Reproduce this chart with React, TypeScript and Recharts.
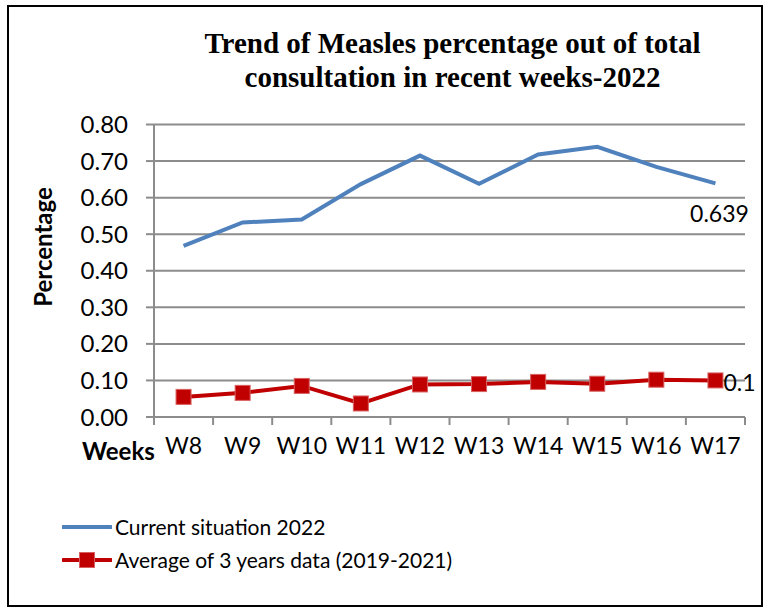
import { LineChart, Line, XAxis, YAxis, CartesianGrid, LabelList } from 'recharts';

// weekly data
const weeks = ['W8', 'W9', 'W10', 'W11', 'W12', 'W13', 'W14', 'W15', 'W16', 'W17'];
const current2022 = [0.468, 0.532, 0.54, 0.637, 0.715, 0.638, 0.718, 0.739, 0.684, 0.639];
const avg3Years = [0.055, 0.066, 0.085, 0.037, 0.089, 0.09, 0.096, 0.091, 0.102, 0.1];
const yTicks = [0, 0.1, 0.2, 0.3, 0.4, 0.5, 0.6, 0.7, 0.8];

const data = weeks.map((w, i) => ({ week: w, current: current2022[i], avg: avg3Years[i] }));

const FONT = 'Lato, "Open Sans", sans-serif';
const GRID = '#8c8c8c';
const BLUE = '#4f81bd';
const RED = '#c00000';
const PLOT_LEFT = 154;
const PLOT_RIGHT = 745;
const BAND = (PLOT_RIGHT - PLOT_LEFT) / weeks.length;

const WeekTick = (props: any) => {
  const { x, y, payload, index } = props;
  return (
    <g>
      <line x1={x - BAND / 2} x2={x - BAND / 2} y1={y} y2={y + 8} stroke={GRID} strokeWidth={2} />
      {index === weeks.length - 1 && (
        <line x1={x + BAND / 2} x2={x + BAND / 2} y1={y} y2={y + 8} stroke={GRID} strokeWidth={2} />
      )}
      <text x={x} y={y + 37} textAnchor="middle" fontSize={23} fontFamily={FONT} fill="#000">
        {payload.value}
      </text>
    </g>
  );
};

const SquareDot = (props: any) => {
  const { cx, cy } = props;
  if (cx == null || cy == null) return null;
  return <rect x={cx - 7.5} y={cy - 7.5} width={15} height={15} fill={RED} stroke="#d86060" strokeWidth={1} />;
};

const lastLabel = (dx: number, dy: number, anchor: string) => (props: any) => {
  const { x, y, value, index } = props;
  if (index !== weeks.length - 1) return null;
  return (
    <text x={x + dx} y={y + dy} textAnchor={anchor} dominantBaseline="central" fontSize={23} fontFamily={FONT} fill="#000">
      {value}
    </text>
  );
};

const LegendBox = () => (
  <div
    style={{
      position: 'absolute', left: 0, top: 510, fontFamily: FONT, fontSize: 21, color: '#000', lineHeight: '33px',
    }}
  >
    <div style={{ display: 'flex', alignItems: 'center' }}>
      <svg width={50} height={12} style={{ marginLeft: 62 }}>
        <line x1={1} x2={49} y1={6} y2={6} stroke={BLUE} strokeWidth={4} strokeLinecap="round" />
      </svg>
      <span style={{ marginLeft: 3 }}>Current situation 2022</span>
    </div>
    <div style={{ display: 'flex', alignItems: 'center' }}>
      <svg width={50} height={18} style={{ marginLeft: 62 }}>
        <line x1={1} x2={49} y1={9} y2={9} stroke={RED} strokeWidth={4} strokeLinecap="round" />
        <rect x={17.5} y={1.5} width={15} height={15} fill={RED} stroke="#d86060" strokeWidth={1} />
      </svg>
      <span style={{ marginLeft: 3 }}>Average of 3 years data (2019-2021)</span>
    </div>
  </div>
);

export default function App() {
  return (
    <div style={{ position: 'absolute', left: 0, top: 0, width: 770, height: 609, background: '#fff' }}>
      <div style={{ position: 'absolute', left: 7, top: 5, width: 752, height: 598, border: '2px solid #000' }} />
      <div
        style={{
          position: 'absolute', left: 100, width: 705, top: 26, textAlign: 'center',
          fontFamily: '"Liberation Serif", "Times New Roman", serif', fontWeight: 'bold', fontSize: 29, lineHeight: '34px',
        }}
      >
        Trend of Measles percentage out of total
        <br />
        consultation in recent weeks-2022
      </div>
      <div
        style={{
          position: 'absolute', left: 42, top: 247, transform: 'translate(-50%, -50%) rotate(-90deg)',
          fontFamily: FONT, fontWeight: 'bold', fontSize: 24, whiteSpace: 'nowrap',
        }}
      >
        Percentage
      </div>
      <div style={{ position: 'absolute', left: 82, top: 436, fontFamily: FONT, fontWeight: 'bold', fontSize: 24 }}>
        Weeks
      </div>
      <LineChart
        width={770}
        height={609}
        data={data}
        margin={{ top: 124.5, right: 25, left: 74, bottom: 152 }}
        style={{ position: 'absolute', left: 0, top: 0 }}
      >
        <CartesianGrid vertical={false} stroke={GRID} strokeWidth={2} />
        <XAxis
          dataKey="week"
          height={40}
          padding={{ left: BAND / 2, right: BAND / 2 }}
          axisLine={{ stroke: GRID, strokeWidth: 2 }}
          tickLine={false}
          tickSize={0}
          tickMargin={0}
          interval={0}
          tick={<WeekTick />}
        />
        <YAxis
          width={80}
          domain={[0, 0.8]}
          ticks={yTicks}
          interval={0}
          tickFormatter={(v: number) => v.toFixed(2)}
          axisLine={{ stroke: GRID, strokeWidth: 2 }}
          tickLine={{ stroke: GRID, strokeWidth: 2 }}
          tickSize={8}
          tickMargin={18}
          tick={{ fontSize: 24, fontFamily: FONT, fill: '#000' }}
        />
        <Line
          type="linear"
          dataKey="current"
          name="Current situation 2022"
          stroke={BLUE}
          strokeWidth={4}
          dot={false}
          isAnimationActive={false}
        >
          <LabelList dataKey="current" content={lastLabel(4, 30, 'middle')} />
        </Line>
        <Line
          type="linear"
          dataKey="avg"
          name="Average of 3 years data (2019-2021)"
          stroke={RED}
          strokeWidth={4}
          dot={<SquareDot />}
          isAnimationActive={false}
        >
          <LabelList dataKey="avg" content={lastLabel(8, 2, 'start')} />
        </Line>
      </LineChart>
      <LegendBox />
    </div>
  );
}
